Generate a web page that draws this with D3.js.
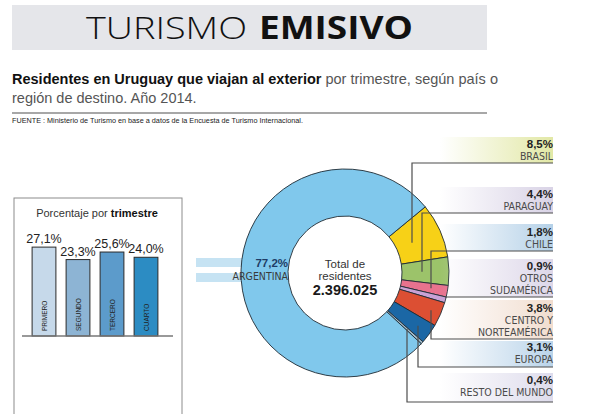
<!DOCTYPE HTML>
<html>
<head>
<meta charset="UTF-8">
<title>Turismo emisivo</title>
<script src="https://d3js.org/d3.v7.min.js"></script>
<style>
  body { margin: 0; background: #fff; }
  svg { display: block; font-family: "Liberation Sans", Arial, sans-serif; }
  .narrow { font-family: "Liberation Sans Narrow", "DejaVu Sans Condensed", sans-serif; }
</style>
</head>
<body>
<svg id="chart" width="600" height="414"></svg>
<script>
// quarterly share of residents travelling abroad
const quarters = ["PRIMERO", "SEGUNDO", "TERCERO", "CUARTO"];
const quarterValues = [27.1, 23.3, 25.6, 24.0];

// destinations (order = clockwise from Brasil)
const destinations = ["BRASIL", "PARAGUAY", "CHILE", "OTROS SUDAMÉRICA", "CENTRO Y NORTEAMÉRICA", "EUROPA", "RESTO DEL MUNDO", "ARGENTINA"];
const destinationLines = [["BRASIL"], ["PARAGUAY"], ["CHILE"], ["OTROS", "SUDAMÉRICA"], ["CENTRO Y", "NORTEAMÉRICA"], ["EUROPA"], ["RESTO DEL MUNDO"], ["ARGENTINA"]];
const destinationShares = [8.5, 4.4, 1.8, 0.9, 3.8, 3.1, 0.4, 77.2];
const totalResidents = "2.396.025";

// styles
const barColors = ["#c6d9ea", "#8db4d4", "#5c9bcb", "#2c8cc3"];
const sliceColors = ["#f7d117", "#9cc36a", "#e8728e", "#c9a2d6", "#dc4f33", "#1b67a5", "#a4bccb", "#80c8ec"];
const bandColors = ["#e2e8a6", "#d9d3e6", "#b5d1e8", "#ddd7e9", "#f1ddcf", "#bad4ea", "#dedcec"];

// label placement for the right hand column
const labelLayout = [
  {lineY: 163, leaderX: 412, pctY: 148, bandTop: 137},
  {lineY: 213, leaderX: 422, pctY: 198, bandTop: 187},
  {lineY: 251, leaderX: 431, pctY: 236, bandTop: 224},
  {lineY: 297, leaderX: null, pctY: 270, bandTop: 259},
  {lineY: 339, leaderX: 431, pctY: 312, bandTop: 300},
  {lineY: 367, leaderX: 418, pctY: 351, bandTop: 341},
  {lineY: 402, leaderX: 407, pctY: 384, bandTop: 373}
];

const locale = d3.formatLocale({decimal: ",", thousands: ".", grouping: [3], currency: ["", ""]});
const pct = locale.format(".1f");

const svg = d3.select("#chart");
const defs = svg.append("defs");

// ---- header ----
svg.append("rect").attr("x", 12).attr("y", 5).attr("width", 475).attr("height", 45).attr("fill", "#e5e6ea");
svg.append("text").attr("x", 86).attr("y", 39)
  .style("font-family", "'Open Sans', 'Liberation Sans', sans-serif").style("font-size", "32px")
  .style("font-weight", 300).attr("fill", "#111")
  .attr("textLength", 161).attr("lengthAdjust", "spacingAndGlyphs").text("TURISMO");
svg.append("text").attr("x", 259).attr("y", 39)
  .style("font-family", "'Open Sans', 'Liberation Sans', sans-serif").style("font-size", "32px")
  .style("font-weight", 700).attr("fill", "#111")
  .attr("textLength", 154).attr("lengthAdjust", "spacingAndGlyphs").text("EMISIVO");

const sub = svg.append("text").attr("x", 12).attr("y", 84).style("font-size", "14.5px");
sub.append("tspan").style("font-weight", "bold").attr("fill", "#111").text("Residentes en Uruguay que viajan al exterior");
sub.append("tspan").attr("fill", "#555").text(" por trimestre, según país o");
svg.append("text").attr("x", 12).attr("y", 103).style("font-size", "14.5px").attr("fill", "#555")
  .text("región de destino. Año 2014.");

svg.append("line").attr("x1", 12).attr("x2", 487).attr("y1", 113).attr("y2", 113)
  .attr("stroke", "#8a8a8a").attr("stroke-width", 1.5);
svg.append("text").attr("x", 12).attr("y", 123).style("font-size", "6.3px").attr("fill", "#222")
  .attr("textLength", 291).attr("lengthAdjust", "spacingAndGlyphs")
  .text("FUENTE : Ministerio de Turismo en base a datos de la Encuesta de Turismo Internacional.");

// ---- quarterly bars ----
svg.append("rect").attr("x", 14).attr("y", 198).attr("width", 168).attr("height", 230)
  .attr("fill", "none").attr("stroke", "#8c8c8c").attr("stroke-width", 1);
const bt = svg.append("text").attr("x", 97).attr("y", 217).attr("text-anchor", "middle")
  .style("font-size", "11px").attr("fill", "#333");
bt.append("tspan").text("Porcentaje por ");
bt.append("tspan").style("font-weight", "bold").attr("fill", "#111").text("trimestre");

const xb = d3.scaleBand().domain(quarters).range([27, 163]).paddingInner(0.3).paddingOuter(0.15);
const yb = d3.scaleLinear().domain([0, 30]).range([336, 237.6]);

svg.append("g").selectAll("rect").data(quarters).join("rect")
  .attr("x", d => xb(d)).attr("width", xb.bandwidth())
  .attr("y", (d, i) => yb(quarterValues[i])).attr("height", (d, i) => yb(0) - yb(quarterValues[i]))
  .attr("fill", (d, i) => barColors[i]).attr("stroke", "#2a2a2a").attr("stroke-width", 1);

svg.append("g").selectAll("text").data(quarters).join("text")
  .attr("x", d => xb(d) + xb.bandwidth() / 2).attr("y", (d, i) => yb(quarterValues[i]) - 4)
  .attr("text-anchor", "middle").style("font-size", "12.5px").attr("fill", "#222")
  .text((d, i) => pct(quarterValues[i]) + "%");

svg.append("g").selectAll("text").data(quarters).join("text")
  .attr("transform", d => "translate(" + (xb(d) + xb.bandwidth() / 2 + 2.5) + "," + (yb(0) - 5) + ") rotate(-90)")
  .style("font-size", "6.5px").attr("fill", "#222").text(d => d);

svg.append("line").attr("x1", 22).attr("x2", 173).attr("y1", yb(0)).attr("y2", yb(0))
  .attr("stroke", "#777").attr("stroke-width", 1.5);

// ---- donut ----
const cx = 345, cy = 273, R = 104, r0 = 57;

// Argentina label bands (behind the ring)
[258, 273].forEach(y => {
  svg.append("rect").attr("x", 196).attr("y", y).attr("width", 50).attr("height", 9).attr("fill", "#c6e3f3");
});

const pie = d3.pie().sort(null).value(d => d)
  .startAngle(50.5 * Math.PI / 180).endAngle(50.5 * Math.PI / 180 + 2 * Math.PI);
const arcs = pie(destinationShares);
const arc = d3.arc().innerRadius(r0).outerRadius(R);

const ring = svg.append("g").attr("transform", "translate(" + cx + "," + cy + ")");
ring.selectAll("path").data(arcs).join("path")
  .attr("d", arc).attr("fill", (d, i) => sliceColors[i])
  .attr("stroke", "#1e2a33").attr("stroke-width", 0.9);

// centre
svg.append("text").attr("x", cx).attr("y", 268).attr("text-anchor", "middle")
  .style("font-size", "11.5px").attr("fill", "#333").text("Total de");
svg.append("text").attr("x", cx).attr("y", 280).attr("text-anchor", "middle")
  .style("font-size", "11.5px").attr("fill", "#333").text("residentes");
svg.append("text").attr("x", cx).attr("y", 295).attr("text-anchor", "middle")
  .style("font-size", "14.5px").style("font-weight", "bold").attr("fill", "#1a1a1a").text(totalResidents);

// Argentina label
const ai = destinations.indexOf("ARGENTINA");
svg.append("text").attr("x", 288).attr("y", 267).attr("text-anchor", "end")
  .style("font-size", "11.5px").style("font-weight", "bold").attr("fill", "#1e3c66")
  .text(pct(destinationShares[ai]) + "%");
svg.append("text").attr("class", "narrow").attr("x", 288).attr("y", 280).attr("text-anchor", "end")
  .style("font-size", "10.5px").attr("fill", "#3a3a3a").text(destinationLines[ai][0]);

// right column labels
const labelRight = 553;
labelLayout.forEach((l, i) => {
  const gid = "band" + i;
  const g = defs.append("linearGradient").attr("id", gid).attr("x1", 0).attr("x2", 1).attr("y1", 0).attr("y2", 0);
  g.append("stop").attr("offset", 0).attr("stop-color", bandColors[i]).attr("stop-opacity", 0);
  g.append("stop").attr("offset", 1).attr("stop-color", bandColors[i]).attr("stop-opacity", 1);
  svg.append("rect").attr("x", 440).attr("y", l.bandTop).attr("width", labelRight - 440)
    .attr("height", l.lineY - l.bandTop).attr("fill", "url(#" + gid + ")");

  svg.append("text").attr("x", labelRight).attr("y", l.pctY).attr("text-anchor", "end")
    .style("font-size", "11.5px").style("font-weight", "bold").attr("fill", "#222")
    .text(pct(destinationShares[i]) + "%");
  destinationLines[i].forEach((t, k) => {
    svg.append("text").attr("class", "narrow").attr("x", labelRight).attr("y", l.pctY + 12 + k * 11.5)
      .attr("text-anchor", "end").style("font-size", "10.5px").attr("fill", "#4a4a4a").text(t);
  });

  const a = arcs[i];
  const mid = (a.startAngle + a.endAngle) / 2;
  let pts;
  if (l.leaderX === null) {
    const x0 = cx + Math.sqrt(R * R - (l.lineY - cy) * (l.lineY - cy)) - 1;
    pts = [[x0, l.lineY], [labelRight, l.lineY]];
  } else {
    const t = (l.leaderX - cx) / Math.sin(mid);
    const yEnd = cy - Math.cos(mid) * t;
    pts = [[l.leaderX, yEnd], [l.leaderX, l.lineY], [labelRight, l.lineY]];
  }
  svg.append("path").attr("d", d3.line()(pts)).attr("fill", "none")
    .attr("stroke", "#4d4d4d").attr("stroke-width", 1.2);
});
</script>
</body>
</html>
